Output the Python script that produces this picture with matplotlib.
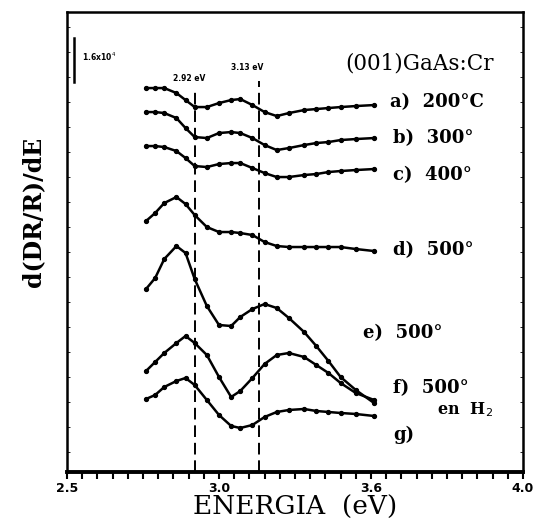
import numpy as np
import matplotlib
matplotlib.use("Agg")
import matplotlib.pyplot as plt

# photon energy (eV), shared by all spectra
energy = [2.76, 2.79, 2.82, 2.86, 2.89, 2.92, 2.96, 3.00, 3.04, 3.07,
          3.11, 3.15, 3.19, 3.23, 3.28, 3.32, 3.36, 3.40, 3.45, 3.51]

# d(DR/R)/dE, arbitrary units (curves stacked as in the figure)
curve_a = [38.4, 38.4, 38.4, 37.9, 37.2, 36.5, 36.5, 36.9, 37.2, 37.3,
           36.7, 36.0, 35.6, 35.9, 36.2, 36.3, 36.4, 36.5, 36.6, 36.7]
curve_b = [36.0, 36.0, 35.9, 35.4, 34.4, 33.5, 33.4, 33.9, 34.0, 33.9,
           33.4, 32.7, 32.2, 32.4, 32.7, 32.9, 33.0, 33.2, 33.3, 33.4]
curve_c = [32.6, 32.6, 32.5, 32.1, 31.4, 30.6, 30.5, 30.8, 30.9, 30.9,
           30.4, 29.9, 29.5, 29.5, 29.7, 29.8, 30.0, 30.1, 30.2, 30.3]
curve_d = [25.1, 25.9, 26.9, 27.5, 26.8, 25.7, 24.5, 24.0, 24.0, 23.9,
           23.7, 23.0, 22.6, 22.5, 22.5, 22.5, 22.5, 22.5, 22.3, 22.1]
curve_e = [18.3, 19.4, 21.3, 22.6, 21.9, 19.3, 16.6, 14.7, 14.6, 15.5,
           16.3, 16.8, 16.4, 15.4, 14.0, 12.6, 11.1, 9.5, 8.2, 6.9]
curve_f = [10.1, 11.0, 11.9, 12.9, 13.6, 12.9, 11.7, 9.5, 7.5, 8.1,
           9.4, 10.8, 11.7, 11.9, 11.5, 10.7, 9.9, 8.9, 7.9, 7.2]
curve_g = [7.3, 7.7, 8.5, 9.1, 9.4, 8.7, 7.2, 5.7, 4.6, 4.4,
           4.7, 5.5, 6.0, 6.2, 6.3, 6.1, 6.0, 5.9, 5.8, 5.6]

curves = [curve_a, curve_b, curve_c, curve_d, curve_e, curve_f, curve_g]
labels = ["a)  200°C", "b)  300°", "c)  400°", "d)  500°", "e)  500°", "f)  500°", "g)"]

transitions = [2.92, 3.13]
xtick_pos = [2.5, 3.0, 3.5, 4.0]
xtick_text = ["2.5", "3.0", "3.6", "4.0"]

fig = plt.figure(figsize=(5.33, 5.25), dpi=100)
ax = fig.add_axes([0.1257, 0.101, 0.8555, 0.876])

for y in curves:
    ax.plot(energy, y, "-o", color="black", lw=1.8, ms=2.8)

for e, top in zip(transitions, [0.83, 0.85]):
    ax.axvline(e, ymin=0, ymax=top, color="black", lw=1.4, ls=(0, (6, 3)))
ax.text(2.85, 39.4, "2.92 eV", fontsize=5.5, fontweight="bold", ha="left", va="center")
ax.text(3.04, 40.5, "3.13 eV", fontsize=5.5, fontweight="bold", ha="left", va="center")

# scale bar
ax.plot([2.523, 2.523], [39.0, 43.4], color="black", lw=1.8)
ax.text(2.55, 41.5, "1.6x10$^4$", fontsize=5.5, fontweight="bold", ha="left", va="center")

ax.text(3.66, 40.9, "(001)GaAs:Cr", fontsize=15.5, family="DejaVu Serif", ha="center", va="center")

lab_pos = [(3.563, 37.0), (3.572, 33.4), (3.572, 29.7), (3.572, 22.2),
           (3.474, 13.9), (3.572, 8.4), (3.572, 3.7)]
for (x, y), t in zip(lab_pos, labels):
    ax.text(x, y, t, fontsize=13, fontweight="bold", family="DejaVu Serif",
            ha="left", va="center")
ax.text(3.717, 6.2, "en  H$_2$", fontsize=11.5, fontweight="bold", family="DejaVu Serif",
        ha="left", va="center")

ax.set_xlim(2.5, 4.0)
ax.set_ylim(0, 46)
ax.set_xticks(xtick_pos)
ax.set_xticklabels(xtick_text, fontsize=9, fontweight="bold")
ax.set_xticks(np.arange(2.5, 4.001, 0.05), minor=True)
ax.tick_params(axis="x", which="both", direction="out", length=5, width=1.5, pad=2)
ax.set_yticks(np.arange(2, 46, 2.5))
ax.set_yticklabels([])
ax.tick_params(axis="y", direction="in", length=2, width=0.6, right=True)

ax.set_xlabel("ENERGIA  (eV)", fontsize=19, family="DejaVu Serif", labelpad=0)
ax.set_ylabel("d(DR/R)/dE", fontsize=17, fontweight="bold", family="DejaVu Serif")
ax.yaxis.set_label_coords(-0.048, 0.565)

for s in ax.spines.values():
    s.set_linewidth(1.8)
ax.spines["bottom"].set_linewidth(2.8)

fig.savefig("out.png", dpi=100)
